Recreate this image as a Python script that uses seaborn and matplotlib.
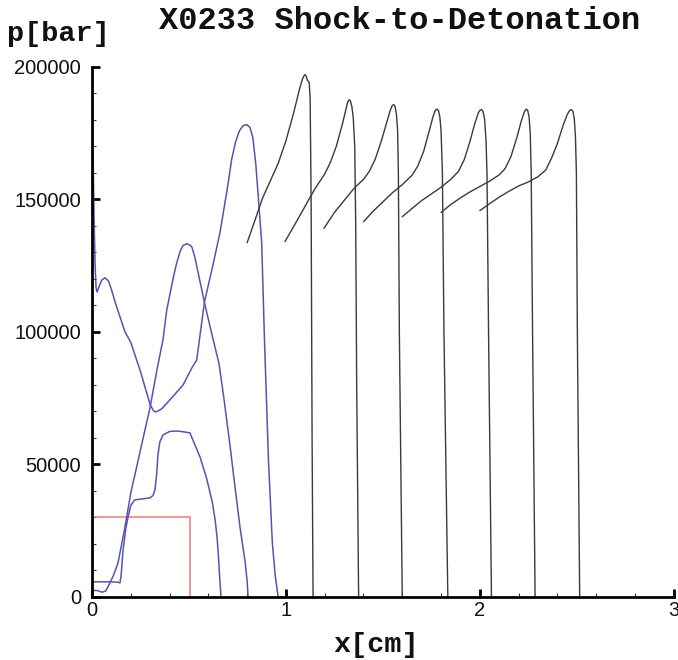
import matplotlib
matplotlib.use("Agg")
import matplotlib.pyplot as plt
from matplotlib.ticker import MultipleLocator, FuncFormatter
import seaborn as sns

# Pressure profiles p(x) at successive times, x in cm, p in bar
# initial input pulse
red_x = [0.0, 0.505, 0.505]
red_p = [30000, 30000, 0]

# early build-up (three profiles)
c_x = [0.0, 0.10, 0.13, 0.144, 0.15, 0.16, 0.175, 0.186, 0.20, 0.22, 0.26, 0.30,
       0.315, 0.325, 0.333, 0.34, 0.35, 0.366, 0.40, 0.435, 0.47, 0.505, 0.53, 0.557,
       0.59, 0.62, 0.635, 0.645, 0.652, 0.658, 0.665]
c_p = [5700, 5700, 5600, 5300, 8000, 17700, 26000, 30200, 34500, 36600, 37000, 37400,
       38300, 40500, 46000, 53500, 58500, 61100, 62400, 62600, 62300, 61900, 57500, 52800,
       45000, 36000, 29000, 22500, 15500, 8000, 0]

b_x = [0.0, 0.03, 0.05, 0.07, 0.082, 0.11, 0.134, 0.17, 0.20, 0.25, 0.30, 0.335,
       0.366, 0.385, 0.415, 0.435, 0.455, 0.47, 0.49, 0.505, 0.515, 0.53, 0.58, 0.62,
       0.655, 0.68, 0.71, 0.74, 0.763, 0.78, 0.79, 0.80, 0.805]
b_p = [2500, 2400, 1800, 2200, 3800, 8000, 12800, 26400, 39200, 55500, 71700, 85700,
       97000, 108000, 119000, 125500, 130500, 132600, 133200, 132700, 132000, 128300, 111000, 98500,
       88000, 75000, 58100, 40000, 26400, 18000, 13000, 6000, 0]

a_x = [0.0, 0.004, 0.01, 0.016, 0.021, 0.026, 0.035, 0.05, 0.067, 0.085, 0.10, 0.12,
       0.17, 0.20, 0.25, 0.30, 0.315, 0.325, 0.34, 0.36, 0.41, 0.47, 0.515, 0.54,
       0.58, 0.62, 0.66, 0.70, 0.72, 0.74, 0.76, 0.78, 0.80, 0.815, 0.83, 0.845,
       0.856, 0.875, 0.89, 0.91, 0.93, 0.945, 0.96]
a_p = [200000, 175000, 145000, 125000, 116500, 115000, 116800, 119500, 120400, 119200, 116000, 111000,
       100000, 96000, 85000, 72500, 70500, 69800, 70100, 71000, 75000, 80000, 86400, 89400,
       111300, 124000, 137400, 155000, 165000, 171500, 175800, 177800, 178100, 177000, 173000, 163000,
       152400, 133600, 95800, 51700, 20400, 8000, 0]

# detonation profiles
d1_x = [0.80, 0.84, 0.88, 0.92, 0.96, 1.00, 1.04, 1.07, 1.085, 1.095, 1.10, 1.105, 1.11, 1.12,
        1.125, 1.13, 1.135, 1.14]
d1_p = [133600, 142000, 150500, 157000, 163500, 172000, 182600, 191500, 195300, 196800, 197000, 196300, 195000, 194000,
        188000, 150000, 60000, 0]

d2_x = [0.995, 1.05, 1.10, 1.15, 1.20, 1.23, 1.26, 1.29, 1.305, 1.318, 1.325, 1.332, 1.34, 1.347,
        1.355, 1.36, 1.365, 1.375]
d2_p = [134000, 141000, 147500, 154000, 159500, 164000, 170000, 178000, 182500, 186500, 187500, 187200, 185000, 181000,
        170000, 140000, 80000, 0]

d3_x = [1.196, 1.25, 1.30, 1.35, 1.40, 1.43, 1.46, 1.49, 1.52, 1.537, 1.548, 1.556, 1.563, 1.57,
        1.576, 1.58, 1.585, 1.60]
d3_p = [139000, 145000, 149500, 154000, 157500, 160500, 165000, 171500, 179000, 183300, 185300, 185700, 185000, 182000,
        176000, 160000, 100000, 0]

d4_x = [1.40, 1.45, 1.50, 1.55, 1.60, 1.65, 1.68, 1.71, 1.74, 1.758, 1.77, 1.78, 1.787, 1.794,
        1.80, 1.807, 1.815, 1.835]
d4_p = [141500, 145500, 149000, 152500, 155500, 159000, 162500, 168000, 176000, 181000, 183500, 184000, 183400, 181000,
        176000, 160000, 100000, 0]

d5_x = [1.60, 1.65, 1.70, 1.75, 1.80, 1.85, 1.89, 1.92, 1.95, 1.975, 1.993, 2.003, 2.01, 2.017,
        2.025, 2.032, 2.037, 2.045, 2.06]
d5_p = [143400, 146500, 149500, 152000, 154500, 157500, 160500, 165000, 172000, 178800, 182700, 183700, 183800, 183000,
        180000, 172000, 160000, 100000, 0]

d6_x = [1.80, 1.85, 1.90, 1.95, 2.00, 2.05, 2.10, 2.13, 2.16, 2.19, 2.215, 2.23, 2.24, 2.247,
        2.254, 2.26, 2.265, 2.272, 2.285]
d6_p = [145000, 148000, 150500, 152800, 154800, 156800, 159200, 161500, 166000, 173000, 179800, 183000, 184000, 183500,
        181000, 175000, 160000, 100000, 0]

d7_x = [2.00, 2.05, 2.10, 2.15, 2.20, 2.25, 2.30, 2.34, 2.37, 2.40, 2.43, 2.45, 2.463,
        2.472, 2.48, 2.487, 2.493, 2.498, 2.503, 2.515]
d7_p = [145700, 148300, 150800, 153000, 155000, 156500, 158500, 161000, 165500, 171000, 178000, 181800, 183500,
        183800, 183200, 180500, 174000, 160000, 100000, 0]

x_ticks = [0, 1, 2, 3]
y_ticks = [0, 50000, 100000, 150000, 200000]

RED = "#f07a7a"
BLUE = "#5454b4"
DARK = "#3a3a3a"

sns.set_style("white")
plt.rcParams["font.family"] = ["Liberation Sans", "DejaVu Sans"]

fig = plt.figure(figsize=(6.78, 6.60), dpi=100)
ax = fig.add_axes([0.1357, 0.0955, 0.858, 0.8035])

sns.lineplot(x=red_x, y=red_p, sort=False, estimator=None, color=RED, lw=1.1, ax=ax)
for xs, ps in [(c_x, c_p), (b_x, b_p), (a_x, a_p)]:
    sns.lineplot(x=xs, y=ps, sort=False, estimator=None, color=BLUE, lw=1.1, ax=ax)
for xs, ps in [(d1_x, d1_p), (d2_x, d2_p), (d3_x, d3_p), (d4_x, d4_p),
               (d5_x, d5_p), (d6_x, d6_p), (d7_x, d7_p)]:
    sns.lineplot(x=xs, y=ps, sort=False, estimator=None, color=DARK, lw=1.0, ax=ax)

ax.set_xlim(0, 3)
ax.set_ylim(0, 200000)
ax.set_xticks(x_ticks)
ax.set_yticks(y_ticks)
ax.xaxis.set_minor_locator(MultipleLocator(0.2))
ax.yaxis.set_minor_locator(MultipleLocator(10000))
ax.yaxis.set_major_formatter(FuncFormatter(lambda v, _: f"{int(v)}"))
ax.xaxis.set_major_formatter(FuncFormatter(lambda v, _: f"{int(v)}"))

for side in ["top", "right"]:
    ax.spines[side].set_visible(False)
for side in ["left", "bottom"]:
    ax.spines[side].set_linewidth(2.0)
    ax.spines[side].set_color("black")

ax.tick_params(which="both", bottom=True, left=True, top=False, right=False)
ax.tick_params(which="major", direction="in", length=5.5, width=2.0, color="black",
               labelsize=14.5, labelcolor="#111111")
ax.tick_params(which="minor", direction="in", length=3, width=0.8, color="#333333")
ax.tick_params(axis="y", which="major", pad=8)
ax.tick_params(axis="x", which="major", pad=3)
ax.set_xlabel("")
ax.set_ylabel("")

mono = ["Liberation Mono", "DejaVu Sans Mono"]
fig.text(0.589, 0.968, "X0233 Shock-to-Detonation", family=mono, weight="bold",
         fontsize=23, ha="center", va="center", color="#111111")
fig.text(0.011, 0.949, "p[bar]", family=mono, weight="bold", fontsize=20.5,
         ha="left", va="center", color="#111111")
fig.text(0.555, 0.023, "x[cm]", family=mono, weight="bold", fontsize=20.5,
         ha="center", va="center", color="#111111")

fig.savefig("out.png", dpi=100)
